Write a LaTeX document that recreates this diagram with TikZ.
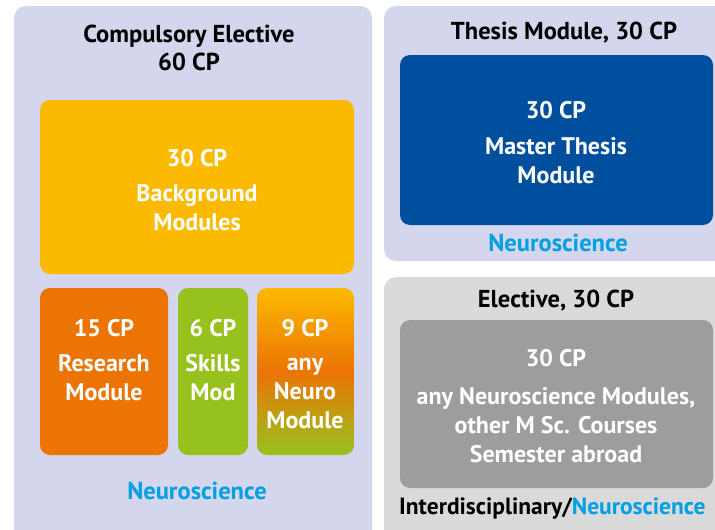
\documentclass[tikz,border=0pt]{standalone}
\usepackage{fontspec}
\setmainfont{PT Sans}
\definecolor{panelL}{HTML}{D3D6EC}
\definecolor{panelG}{HTML}{DADADA}
\definecolor{oyellow}{HTML}{FBBA00}
\definecolor{dorange}{HTML}{EC7404}
\definecolor{lgreen}{HTML}{97C21E}
\definecolor{dblue}{HTML}{004F9E}
\definecolor{mgrey}{HTML}{9D9D9C}
\definecolor{cyanT}{HTML}{00A0E3}
\pgfdeclareverticalshading{neurograd}{100bp}{color(0bp)=(lgreen); color(25bp)=(lgreen); color(50bp)=(dorange); color(75bp)=(oyellow); color(100bp)=(oyellow)}
\tikzset{
  panel/.style={rounded corners=12pt, inner sep=0pt},
  modbox/.style={rounded corners=10pt, inner sep=0pt},
  wtext/.style={text=white, font=\bfseries\fontsize{24}{29}\selectfont, align=center, inner sep=0pt},
  btext/.style={text=black, font=\bfseries\fontsize{24.5}{28}\selectfont, align=center, inner sep=0pt},
  ctext/.style={text=cyanT, font=\bfseries\fontsize{24.5}{28}\selectfont, align=center, inner sep=0pt},
}
\begin{document}
\begin{tikzpicture}[x=1pt,y=-1pt]
\useasboundingbox (0,0) rectangle (715,530);
\clip (0,0) rectangle (715,530);
\fill[white] (0,0) rectangle (715,530);
% panels
\fill[panelL, panel] (14,6) rectangle (372,550);
\fill[panelL, panel] (384,6) rectangle (730,261);
\fill[panelG, panel] (384,277) rectangle (730,550);
% boxes
\node[modbox, fill=oyellow, minimum width=314pt, minimum height=174pt] (bg) at (197,187) {};
\node[modbox, fill=dorange, minimum width=128pt, minimum height=167pt] (res) at (104,371.5) {};
\node[modbox, fill=lgreen, minimum width=70pt, minimum height=167pt] (sk) at (213,371.5) {};
\node[modbox, shading=neurograd, minimum width=97pt, minimum height=167pt] (nm) at (305.5,371.5) {};
\node[modbox, fill=dblue, minimum width=313pt, minimum height=170pt] (mt) at (556.5,140) {};
\node[modbox, fill=mgrey, minimum width=313pt, minimum height=168pt] (el) at (556.5,404) {};
% titles
\node[btext] (t1) at (189,48) {Compulsory Elective\\60 CP};
\node[btext] (t2) at (564,33) {Thesis Module, 30 CP};
\node[btext] (t3) at (556,301) {Elective, 30 CP};
% footers
\node[ctext] (f1) at (197,491) {Neuroscience};
\node[ctext] (f2) at (558,243) {Neuroscience};
\node[btext, anchor=west, font=\bfseries\fontsize{23.5}{28}\selectfont] (f3) at (399,509) {Interdisciplinary/\textcolor{cyanT}{Neuroscience}};
% box texts
\node[wtext] (bg1) at (197,158) {30 CP};
\node[wtext] (bg2) at (197,208) {Background\\Modules};
\node[wtext] (r1) at (104,328) {15 CP};
\node[wtext] (r2) at (104,378) {Research\\Module};
\node[wtext] (s1) at (213,328) {6 CP};
\node[wtext] (s2) at (213,378) {Skills\\Mod};
\node[wtext] (n1) at (305,328) {9 CP};
\node[wtext] (n2) at (305,393) {any\\Neuro\\Module};
\node[wtext] (m1) at (556,110) {30 CP};
\node[wtext] (m2) at (556,160.5) {Master Thesis\\Module};
\node[wtext] (e1) at (556,358) {30 CP};
\node[wtext] (e2) at (556,425.5) {any Neuroscience Modules,\\other M Sc. Courses\\Semester abroad};
\end{tikzpicture}
\end{document}
